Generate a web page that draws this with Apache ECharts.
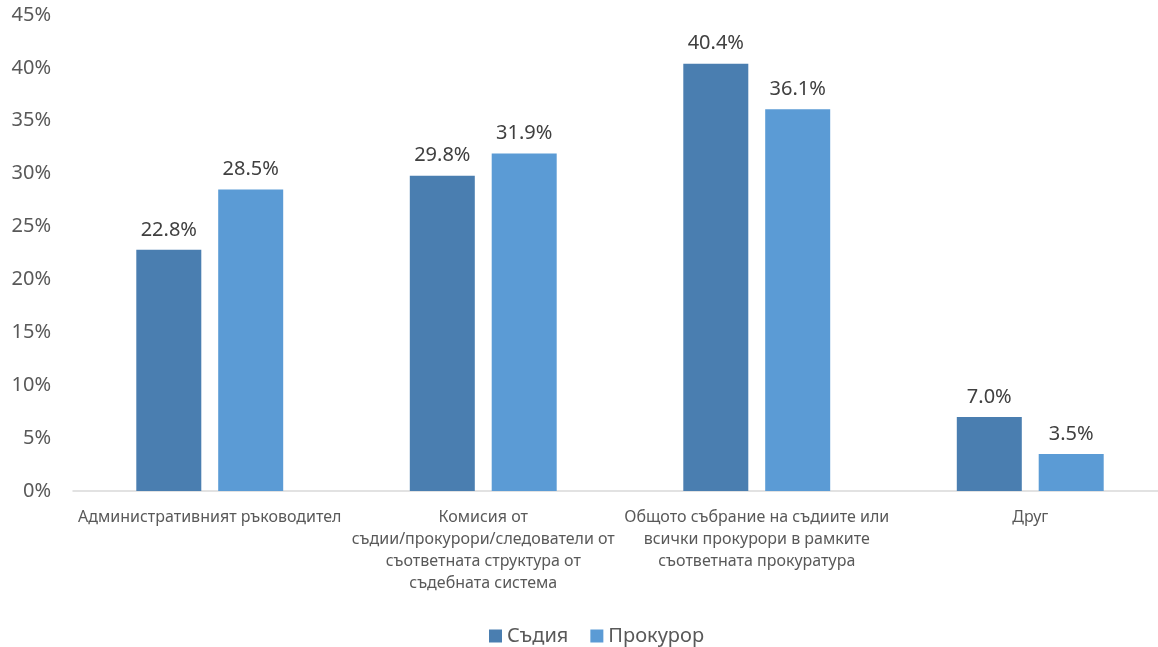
<!DOCTYPE html>
<html><head><meta charset="utf-8">
<script src="https://cdn.jsdelivr.net/npm/echarts@6/dist/echarts.min.js"></script>
<style>html,body{margin:0;padding:0;background:#fff;overflow:hidden}#c{width:1170px;height:647px}</style>
</head><body><div id="c"></div>
<script>
const categories = [
  'Административният ръководител',
  'Комисия от\nсъдии/прокурори/следователи от\nсъответната структура от\nсъдебната система',
  'Общото събрание на съдиите или\nвсички прокурори в рамките\nсъответната прокуратура',
  'Друг'
];
const seriesNames = ['Съдия', 'Прокурор'];
const judges = [22.8, 29.8, 40.4, 7.0];
const prosecutors = [28.5, 31.9, 36.1, 3.5];
const yTicks = { min: 0, max: 45, interval: 5 };

const font = 'Noto Sans, sans-serif';
const chart = echarts.init(document.getElementById('c'));
const mk = (name, data, color) => ({
  name, type: 'bar', data, barWidth: 65, barGap: '26%',
  itemStyle: { color },
  label: { show: true, position: 'top', distance: 10, color: '#404040', fontSize: 20, fontFamily: font,
    formatter: p => p.value.toFixed(1) + '%' }
});
chart.setOption({
  animation: false,
  textStyle: { fontFamily: font },
  grid: { left: 73, top: 15, width: 1094, height: 476, containLabel: false },
  legend: { top: 621, left: 484, itemWidth: 13, itemHeight: 13, itemGap: 22, icon: 'rect',
    textStyle: { color: '#595959', fontSize: 20, fontFamily: font }, data: seriesNames },
  xAxis: { type: 'category', data: categories,
    axisLine: { lineStyle: { color: '#d9d9d9', width: 1.5 } }, axisTick: { show: false },
    axisLabel: { color: '#595959', fontSize: 16, fontFamily: font, lineHeight: 22, margin: 15, interval: 0 } },
  yAxis: { type: 'value', min: yTicks.min, max: yTicks.max, interval: yTicks.interval,
    splitLine: { show: false }, axisLine: { show: false }, axisTick: { show: false },
    axisLabel: { color: '#595959', fontSize: 20, fontFamily: font, margin: 22, formatter: v => v + '%' } },
  series: [mk(seriesNames[0], judges, '#4A7EB0'), mk(seriesNames[1], prosecutors, '#5B9BD5')]
});
</script></body></html>
